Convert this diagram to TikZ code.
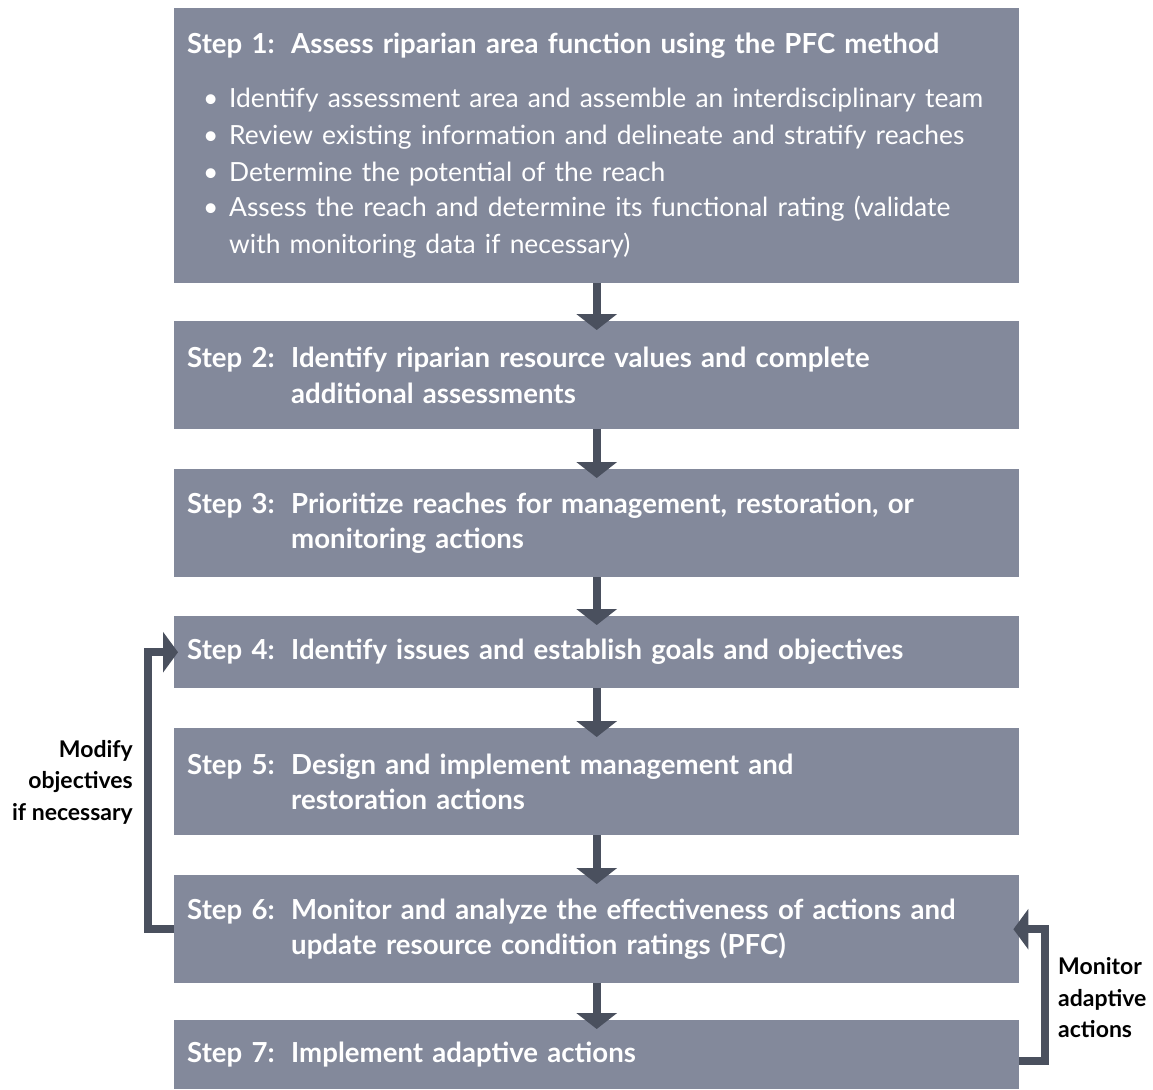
\documentclass[tikz,border=0pt]{standalone}
\usepackage{fontspec}
\setmainfont{Lato}
\usetikzlibrary{arrows.meta}
\definecolor{boxgray}{RGB}{131,137,155}
\definecolor{arrowdark}{RGB}{74,80,94}
\newcommand{\steplabel}[2]{\makebox[104pt][l]{Step #1:}\parbox[t]{712pt}{#2}}
\newcommand{\pfcitem}[1]{\fontsize{26.4}{36.7}\selectfont\mdseries
  \hspace*{16pt}\makebox[26pt][l]{\textbullet}\parbox[t]{760pt}{#1}}
\begin{document}
\begin{tikzpicture}
    [
    x=1pt, y=-1pt,
    stepbox/.style={
      rectangle,
      fill=boxgray,
      text=white,
      anchor=north west,
      minimum width=845pt,
      text width=819pt,
      inner xsep=13pt,
      inner ysep=0pt,
      align=left,
      font=\fontsize{27.6}{35.5}\selectfont\bfseries
    },
    flowarrow/.style={
      draw=arrowdark,
      line width=8pt,
      -{Triangle[width=40pt,length=16pt]},
      shorten >=-9pt
    },
    loopback/.style={
      draw=arrowdark,
      line width=8pt,
      line join=miter,
      -{Triangle[width=40pt,length=15pt]},
      shorten >=-4pt
    },
    looplabel/.style={
      font=\fontsize{23}{31.5}\selectfont\bfseries,
      inner sep=0pt
    }]
    \useasboundingbox (0,0) rectangle (1153,1089);
    \node (pfc) at (174,8) [stepbox, minimum height=275pt]
      {\steplabel{1}{Assess riparian area function using the PFC method}\\[17pt]
       \pfcitem{Identify assessment area and assemble an interdisciplinary team}\\
       \pfcitem{Review existing information and delineate and stratify reaches}\\
       \pfcitem{Determine the potential of the reach}\\
       \pfcitem{Assess the reach and determine its functional rating (validate\\with monitoring data if necessary)}};
    \node (values) at (174,321) [stepbox, minimum height=108pt]
      {\steplabel{2}{Identify riparian resource values and complete\\additional assessments}};
    \node (prioritize) at (174,469) [stepbox, minimum height=108pt]
      {\steplabel{3}{Prioritize reaches for management, restoration, or\\monitoring actions}};
    \node (goals) at (174,616) [stepbox, minimum height=72pt]
      {\steplabel{4}{Identify issues and establish goals and objectives}};
    \node (design) at (174,728) [stepbox, minimum height=107pt]
      {\steplabel{5}{Design and implement management and\\restoration actions}};
    \node (monitor) at (174,875) [stepbox, minimum height=108pt]
      {\steplabel{6}{Monitor and analyze the effectiveness of actions and\\update resource condition ratings (PFC)}};
    \node (adaptive) at (174,1020) [stepbox, minimum height=69pt]
      {\steplabel{7}{Implement adaptive actions}};

    % main sequence
    \draw[flowarrow] (pfc) -- (values);
    \draw[flowarrow] (values) -- (prioritize);
    \draw[flowarrow] (prioritize) -- (goals);
    \draw[flowarrow] (goals) -- (design);
    \draw[flowarrow] (design) -- (monitor);
    \draw[flowarrow] (monitor) -- (adaptive);

    % feedback loops
    \draw[loopback] (monitor.west) -- ++(-26,0) |- (goals.west);
    \draw[loopback, shorten >=-6pt] ([yshift=-6pt]adaptive.east) -- ++(26,0) |- (monitor.east);
    \node (modify) at (133,782) [looplabel, anchor=east, align=right]
      {Modify\\objectives\\if necessary};
    \node (adapt) at (1058,998) [looplabel, anchor=west, align=left]
      {Monitor\\adaptive\\actions};
  \end{tikzpicture}
\end{document}
